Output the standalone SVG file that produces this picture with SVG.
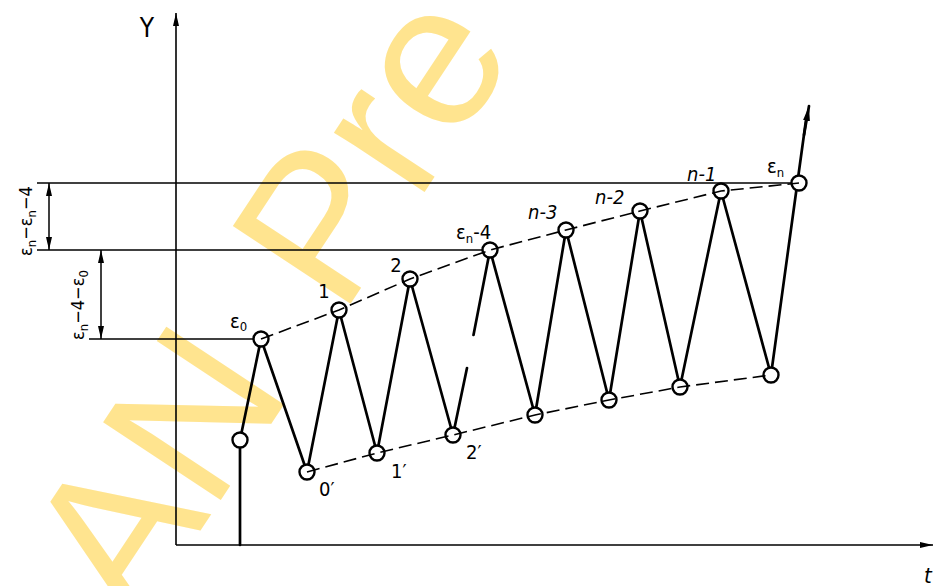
<svg xmlns="http://www.w3.org/2000/svg" width="935" height="586" viewBox="0 0 935 586">
<style>
.ax{stroke:#000;stroke-width:1.6;fill:none}
.thin{stroke:#000;stroke-width:1.5;fill:none}
.zig{stroke:#000;stroke-width:2.7;fill:none;stroke-linejoin:round;stroke-linecap:round}
.dash{stroke:#000;stroke-width:1.6;fill:none;stroke-dasharray:13 6}
.pt{fill:#fff;stroke:#000;stroke-width:2.4}
text{font-family:"DejaVu Sans","Liberation Sans",sans-serif;font-stretch:condensed;fill:#000}
.lb{font-size:20px}
.it{font-style:italic}
.sub{font-size:13px}
.wm{font-family:"Liberation Sans",Arial,sans-serif;font-stretch:normal;fill:#FFE48F;font-size:205px}
</style>
<defs>
<marker id="ah" viewBox="0 0 13 6" refX="13" refY="3" markerWidth="13" markerHeight="6" markerUnits="userSpaceOnUse" orient="auto-start-reverse"><path d="M0,0 L13,3 L0,6 Z" fill="#000"/></marker>
<marker id="ahb" viewBox="0 0 15 7" refX="15" refY="3.5" markerWidth="15" markerHeight="7" markerUnits="userSpaceOnUse" orient="auto"><path d="M0,0 L15,3.5 L0,7 Z" fill="#000"/></marker>
</defs>

<g id="watermark" transform="translate(136,628) rotate(-56.5)">
<text class="wm" x="0" y="0">AN</text>
<text class="wm" x="372" y="0">Pre</text>
</g>

<g id="axes">
<line class="ax" x1="176" y1="545" x2="176" y2="13" marker-end="url(#ah)"/>
<line class="ax" x1="176" y1="545" x2="933" y2="545" marker-end="url(#ah)"/>
<text x="147" y="37" font-size="26" text-anchor="middle">Y</text>
<text x="924" y="583" font-size="22" class="it">t</text>
</g>

<g id="dimensions">
<line class="thin" x1="37" y1="183" x2="791" y2="183"/>
<line class="thin" x1="37" y1="250" x2="482" y2="250"/>
<line class="thin" x1="89" y1="339" x2="253" y2="339"/>
<line class="thin" x1="49" y1="216" x2="49" y2="183" marker-end="url(#ah)"/>
<line class="thin" x1="49" y1="216" x2="49" y2="250" marker-end="url(#ah)"/>
<line class="thin" x1="101" y1="295" x2="101" y2="250" marker-end="url(#ah)"/>
<line class="thin" x1="101" y1="295" x2="101" y2="339" marker-end="url(#ah)"/>
<text transform="translate(32,256) rotate(-90)" font-size="18">ε<tspan class="sub" dy="4">n</tspan><tspan dy="-4">−ε</tspan><tspan class="sub" dy="4">n</tspan><tspan dy="-4">−4</tspan></text>
<text transform="translate(84,340) rotate(-90)" font-size="18">ε<tspan class="sub" dy="4">n</tspan><tspan dy="-4">−4−ε</tspan><tspan class="sub" dy="4">0</tspan></text>
</g>

<g id="connectors">
<line class="zig" x1="240" y1="545" x2="240" y2="448"/>
<polyline class="zig" points="240,440 261,339 307,472 339,310 377,453 410,279 453,435 467,368"/>
<polyline class="zig" points="473.5,335 490,250 535,415 566,230 609,400 640,211 680,387 721,191 771,375 806,120"/>
<line class="zig" x1="804" y1="135" x2="809" y2="106" marker-end="url(#ahb)"/>
</g>

<g id="points">
<g id="p-start"><circle class="pt" cx="240" cy="440" r="7.5"/></g>
<g id="p-e0"><circle class="pt" cx="261" cy="339" r="7.5"/><text class="lb" x="230" y="328">ε<tspan class="sub" dy="3">0</tspan></text></g>
<g id="p-0p"><circle class="pt" cx="307" cy="472" r="7.5"/><text class="lb" x="319" y="496">0′</text></g>
<g id="p-1"><circle class="pt" cx="339" cy="310" r="7.5"/><text class="lb" x="324" y="298" text-anchor="middle">1</text></g>
<g id="p-1p"><circle class="pt" cx="377" cy="453" r="7.5"/><text class="lb" x="391" y="478">1′</text></g>
<g id="p-2"><circle class="pt" cx="410" cy="279" r="7.5"/><text class="lb" x="396" y="272" text-anchor="middle">2</text></g>
<g id="p-2p"><circle class="pt" cx="453" cy="435" r="7.5"/><text class="lb" x="466" y="459">2′</text></g>
<g id="p-en4"><circle class="pt" cx="490" cy="250" r="7.5"/><text class="lb" x="456" y="239">ε<tspan class="sub" dy="4">n</tspan><tspan dy="-4">-4</tspan></text></g>
<g id="p-b3"><circle class="pt" cx="535" cy="415" r="7.5"/></g>
<g id="p-n3"><circle class="pt" cx="566" cy="230" r="7.5"/><text class="lb it" x="528" y="219">n-3</text></g>
<g id="p-b4"><circle class="pt" cx="609" cy="400" r="7.5"/></g>
<g id="p-n2"><circle class="pt" cx="640" cy="211" r="7.5"/><text class="lb it" x="595" y="204">n-2</text></g>
<g id="p-b5"><circle class="pt" cx="680" cy="387" r="7.5"/></g>
<g id="p-n1"><circle class="pt" cx="721" cy="191" r="7.5"/><text class="lb it" x="687" y="181">n-1</text></g>
<g id="p-b6"><circle class="pt" cx="771" cy="375" r="7.5"/></g>
<g id="p-en"><circle class="pt" cx="799" cy="183" r="7.5"/><text class="lb" x="767" y="173">ε<tspan class="sub" dy="4">n</tspan></text></g>
</g>

<g id="envelopes">
<polyline class="dash" points="261,339 339,310 410,279 490,250 566,230 640,211 721,191 799,183"/>
<polyline class="dash" points="307,472 377,453 453,435 535,415 609,400 680,387 771,375"/>
</g>
</svg>
